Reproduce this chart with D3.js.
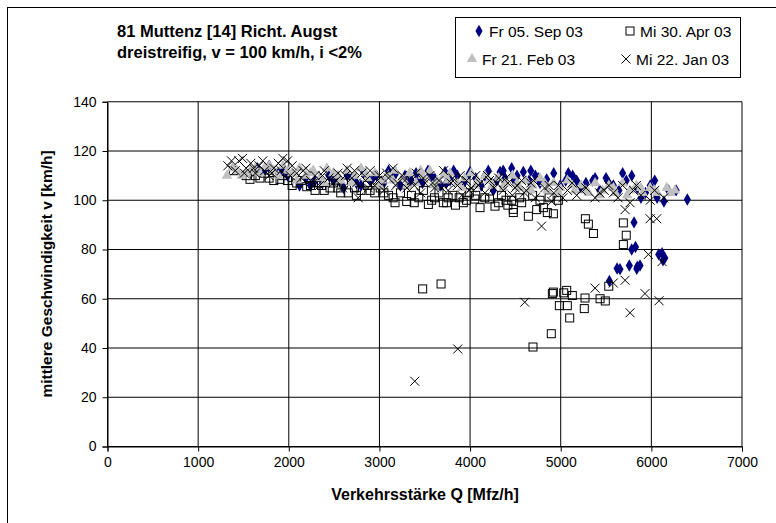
<!DOCTYPE html>
<html>
<head>
<meta charset="utf-8">
<script src="https://cdn.jsdelivr.net/npm/d3@7"></script>
<style>
  html, body { margin: 0; padding: 0; background: #fff; }
  svg { display: block; font-family: "Liberation Sans", Arial, sans-serif; }
</style>
</head>
<body>
<svg id="chart" width="776" height="523"></svg>
<script>
// Fundamental diagram, station 81 Muttenz: flow Q [Mfz/h] vs. mean speed v [km/h]
const titleLines = ["81 Muttenz [14] Richt. Augst", "dreistreifig, v = 100 km/h, i <2%"];
const xTicks = [0, 1000, 2000, 3000, 4000, 5000, 6000, 7000];
const yTicks = [0, 20, 40, 60, 80, 100, 120, 140];
const seriesNames = ["Fr 05. Sep 03", "Mi 30. Apr 03", "Fr 21. Feb 03", "Mi 22. Jan 03"];

// Fr 05. Sep 03  [Q, v]
const sep03 = [
  [1652,113],[1733,112],[1783,114],[1885,111],[1935,112],[1986,110],[2118,106],[2189,109],[2239,106],
  [2290,108],[2371,107],[2442,110],[2492,108],[2543,108],[2604,105],[2644,110],[2695,109],[2746,107],
  [2796,106],[2827,111],[2897,108],[2928,109],[2968,110],[3049,107],[3100,112],[3151,109],[3181,111],
  [3232,106],[3282,110],[3323,107],[3353,108],[3404,111],[3434,109],[3475,107],[3536,112],[3576,110],
  [3607,109],[3677,106],[3724,111.5],[3738,107],[3779,108],[3819,112],[3860,110],[3931,107],[3961,109],
  [4000,111.5],[4062,109],[4123,106],[4163,110],[4201,112],[4256,104],[4295,108],[4331,111.5],[4366,112],
  [4386,109],[4459,113],[4488,108],[4518,110],[4588,111.5],[4650,108],[4670,112],[4720,110],[4751,109],
  [4771,107],[4845,108.5],[4923,111],[4994,106],[5055,108],[5084,111],[5132,110],[5176,108],[5220,105.5],
  [5278,107],[5353,108],[5379,109],[5430,104],[5500,109],[5531,107],[5581,106],[5642,104],[5683,111],
  [5723,108],[5784,110],[5845,105],[5885,101],[5936,103],[5987,106],[6037,108],[6063,101],[6139,99.5],
  [6189,104],[6273,104],[6397,100.3],
  [5809,91],[5783,80],[5825,81],[6081,78],[6118,78.5],[6149,76.5],[5757,73.5],[5845,73],[5875,73.5],
  [5839,72.2],[5654,72],[5622,72.3],[5537,67.2],[6128,75.6]
];

// Mi 30. Apr 03
const apr03 = [
  [1388,112],[1530,110],[1572,108.5],[1631,110],[1682,109],[1733,111],[1783,109],[1834,108],[1903,108.5],
  [1935,110],[1986,108],[2037,106],[2087,107],[2138,108],[2198,105.5],[2239,106],[2290,104],[2320,107],
  [2361,106],[2391,104],[2455,105],[2492,107],[2543,105],[2573,103],[2604,107],[2656,103],[2725,105],
  [2746,102],[2796,104],[2867,106],[2897,104],[2948,103],[3009,105],[3049,103],[3100,102],[3151,101],
  [3172,99],[3232,103],[3301,99.5],[3353,102],[3384,99],[3434,101],[3485,104],[3540,98.3],[3576,100],
  [3607,101],[3657,103],[3705,99],[3742,99],[3758,101],[3809,102],[3839,98],[3880,101],[3925,99],
  [3961,100],[3991,103],[4052,100.5],[4062,102],[4110,97],[4163,101],[4214,100.5],[4275,97.6],[4315,99],
  [4346,102],[4396,100],[4417,98],[4459,100],[4477,95],[4477,96.3],[4548,101],[4569,99],[4643,93.5],
  [4690,102],[4735,96.2],[4771,100],[4809,97],[4852,95],[4872,101],[4919,94.5],[4974,100],
  [5272,92.5],[5305,90.3],[5361,86.5],[5691,90.8],[5723,85.8],[5691,82],
  [3477,64],[3680,66],[4694,40.4],[4896,45.8],[5099,52.2],[5260,56],[4985,57.2],[5073,57.2],
  [4919,62.7],[5066,63.4],[5033,62.4],[5128,61.3],[5268,60.3],[5434,60],[5492,59.1],[5530,65.1],[4908,62.1]
];

// Fr 21. Feb 03
const feb03 = [
  [1318,110],[1378,113],[1429,112],[1480,110],[1530,111],[1581,112],[1631,113],[1682,111],[1738,113.5],
  [1783,114],[1834,112],[1885,110],[1935,114],[1986,112],[2037,111],[2087,108],[2118,113],[2189,110],
  [2239,111],[2270,112],[2340,109],[2391,107],[2421,113],[2492,111],[2543,110],[2573,108],[2644,112],
  [2695,107],[2725,110],[2796,113],[2847,111],[2867,109],[2948,111],[2999,106],[3029,108],[3100,110],
  [3151,108],[3171,112],[3252,109],[3303,106],[3333,111],[3404,107],[3455,112],[3475,110],[3556,112],
  [3607,106],[3637,108],[3708,110],[3758,108],[3779,111],[3860,107],[3910,105],[3941,109],[4012,111],
  [4062,106],[4083,108],[4163,110],[4214,108],[4244,106],[4315,109],[4366,105],[4386,107],[4467,110],
  [4518,107],[4548,105],[4619,108],[4670,104],[4690,106],[4771,109],[4822,107],[4852,104],[4923,107],
  [4974,103],[4994,105],[5075,108],[5126,106],[5156,104],[5227,106],[5278,104],[5308,103],[5379,107],
  [5430,102],[5460,104],[5531,106],[5581,105],[5602,103],[5683,107],[5733,102],[5764,104],[5835,106],
  [5885,105],[5905,103],[5987,105],[6037,104],[6067,103],[6169,105],[6210,103],[6260,104]
];

// Mi 22. Jan 03
const jan03 = [
  [1328,114],[1368,116],[1409,112],[1449,116],[1490,117],[1510,111],[1530,113],[1581,115],[1611,113],
  [1631,111],[1672,114],[1713,116],[1733,112],[1783,110],[1814,111],[1834,113],[1885,115],[1915,112],
  [1935,117],[1986,116],[2016,110],[2037,114],[2087,111],[2138,109],[2158,112],[2189,113],[2239,108],
  [2270,107],[2290,110],[2340,106],[2371,110],[2391,112],[2442,109],[2492,107],[2523,108],[2543,111],
  [2594,105],[2624,110],[2644,113],[2695,109],[2725,112],[2746,107],[2766,101],[2806,111],[2847,108],
  [2877,105],[2897,112],[2948,106],[2979,108],[2999,110],[3049,104],[3080,111],[3100,109],[3151,113],
  [3181,106],[3201,107],[3252,110],[3282,108],[3303,105],[3353,108],[3384,106],[3404,111],[3455,103],
  [3485,109],[3505,107],[3556,110],[3586,107],[3607,105],[3657,108],[3688,105],[3708,112],[3758,104],
  [3789,107],[3809,109],[3860,106],[3890,110],[3910,102],[3961,108],[3991,104],[4012,105],[4062,110],
  [4093,106],[4113,107],[4163,103],[4194,110],[4214,108],[4265,105],[4295,107],[4315,109],[4366,104],
  [4396,109],[4417,107],[4467,102],[4498,105],[4518,106],[4569,108],[4599,103],[4619,104],[4670,107],
  [4700,108],[4720,101],[4789,89.5],[4822,105],[4872,106],[4901,99.5],[4923,103],[4974,106],[5024,101],
  [5075,104],[5126,107],[5176,102],[5227,104],[5278,105],[5379,101],[5430,103],[5480,104],[5531,106],
  [5581,103],[5632,101],[5683,106],[5710,96.2],[5765,99],[5804,104],[5835,106],[5885,102],[5986,92.5],
  [6059,92.5],[5987,100],[6037,104],[6138,101],
  [5967,78],[6118,75.1],[5710,67.5],[5580,66.4],[5379,64.3],[5930,62.1],[6085,59.2],[5765,54.3],
  [4603,58.6],[3864,39.6],[3390,26.5]
];

const svg = d3.select("#chart");
const FONT = '"Liberation Sans", Arial, sans-serif';

// outer chart frame
svg.append("rect")
  .attr("x", 7.5).attr("y", 7.5).attr("width", 900).attr("height", 700)
  .attr("fill", "#fff").attr("stroke", "#000").attr("stroke-width", 1);

const x = d3.scaleLinear().domain([0, 7000]).range([107.5, 742]);
const y = d3.scaleLinear().domain([0, 140]).range([446.5, 101.75]);

// grid
const grid = svg.append("g");
grid.selectAll("line.h").data(yTicks).join("line")
  .attr("x1", x(0)).attr("x2", x(7000))
  .attr("y1", d => y(d)).attr("y2", d => y(d))
  .attr("stroke", "#000").attr("stroke-width", 1);
grid.selectAll("line.v").data(xTicks).join("line")
  .attr("y1", y(0)).attr("y2", y(140))
  .attr("x1", d => x(d)).attr("x2", d => x(d))
  .attr("stroke", "#000").attr("stroke-width", 1);

// axes
const xAxis = svg.append("g").attr("transform", `translate(0,${y(0)})`)
  .call(d3.axisBottom(x).tickValues(xTicks).tickFormat(d3.format("d")).tickSize(5).tickPadding(6));
const yAxis = svg.append("g").attr("transform", `translate(${x(0)},0)`)
  .call(d3.axisLeft(y).tickValues(yTicks).tickFormat(d3.format("d")).tickSize(5).tickPadding(6));
[xAxis, yAxis].forEach(a => {
  a.select(".domain").attr("stroke", "#000");
  a.selectAll(".tick line").attr("stroke", "#000");
  a.selectAll("text").attr("font-size", 14).attr("fill", "#000").attr("font-family", FONT);
});

// markers
const symDiamond = d3.symbol().type(d3.symbolDiamond).size(44);
const symTri = d3.symbol().type(d3.symbolTriangle).size(48);

function drawMarker(g, kind) {
  if (kind === 0) {
    g.append("path").attr("d", symDiamond()).attr("fill", "#000080");
  } else if (kind === 1) {
    g.append("rect").attr("x", -4).attr("y", -4).attr("width", 8).attr("height", 8)
      .attr("fill", "none").attr("stroke", "#000").attr("stroke-width", 1);
  } else if (kind === 2) {
    g.append("path").attr("d", symTri()).attr("fill", "#c0c0c0");
  } else {
    g.append("path").attr("d", "M-4.5,-4.5L4.5,4.5M-4.5,4.5L4.5,-4.5")
      .attr("fill", "none").attr("stroke", "#000").attr("stroke-width", 1);
  }
}

const allSeries = [sep03, apr03, feb03, jan03];
allSeries.forEach((data, k) => {
  const layer = svg.append("g");
  layer.selectAll("g").data(data).join("g")
    .attr("transform", d => `translate(${x(d[0])},${y(d[1])})`)
    .each(function () { drawMarker(d3.select(this), k); });
});

// title
const title = svg.append("text").attr("font-size", 16.5).attr("font-weight", "bold")
  .attr("font-family", FONT);
titleLines.forEach((t, i) => {
  title.append("tspan").attr("x", 117).attr("y", 37 + i * 21).text(t);
});

// legend
const lg = svg.append("g");
lg.append("rect").attr("x", 455.5).attr("y", 17.5).attr("width", 285).attr("height", 60)
  .attr("fill", "#fff").attr("stroke", "#000");
const legPos = [[479, 31], [630, 31], [472, 59], [626, 59]];
seriesNames.forEach((name, k) => {
  const g = lg.append("g").attr("transform", `translate(${legPos[k][0]},${legPos[k][1]})`);
  drawMarker(g, k);
  g.append("text").attr("x", 10).attr("y", 5.5).attr("font-size", 15.5)
    .attr("font-family", FONT).text(name);
});

// axis titles
svg.append("text").attr("x", 425).attr("y", 500).attr("text-anchor", "middle")
  .attr("font-size", 16).attr("font-weight", "bold").attr("font-family", FONT)
  .text("Verkehrsstärke Q [Mfz/h]");
svg.append("text").attr("transform", "translate(52,274) rotate(-90)").attr("text-anchor", "middle")
  .attr("font-size", 15.5).attr("font-weight", "bold").attr("font-family", FONT)
  .text("mittlere Geschwindigkeit v [km/h]");
</script>
</body>
</html>
